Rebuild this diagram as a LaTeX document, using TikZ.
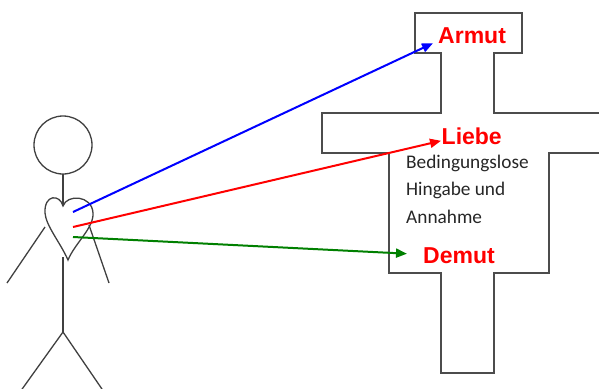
\documentclass[tikz,border=0pt]{standalone}
\usepackage{fontspec}
\setmainfont{Carlito}
\newfontfamily\tugendfont{Liberation Sans}
\usetikzlibrary{arrows.meta,calc}
\definecolor{gruen}{RGB}{0,128,0}

\begin{document}
\begin{tikzpicture}[
			x = 1pt, y = -1pt,
			figur/.style = {draw=black!75, line width=1.3pt},
			kreuz/.style = {draw=black!70, line width=1.4pt},
			pfeil/.style = {line width=2pt, -{Triangle[length=11pt,width=9pt]}},
			tugend/.style = {font=\tugendfont\bfseries\fontsize{23}{23}\selectfont, text=red, inner sep=0pt, anchor=base west},
			zeile/.style = {font=\fontsize{19.3}{27}\selectfont, text=black!85, inner sep=0pt, anchor=base west}
			]

			\useasboundingbox (0,0) rectangle (599,388);
			\clip (0,0) rectangle (599,388);

			% Kreuz
			\draw[kreuz] (610,113) -- (494,113) -- (494,53) -- (522,53) -- (522,13) -- (415,13)
				-- (415,53) -- (441,53) -- (441,113) -- (322,113) -- (322,153) -- (389,153)
				-- (389,273) -- (441,273) -- (441,373) -- (494,373) -- (494,273) -- (549,273)
				-- (549,153) -- (610,153);

			\node[tugend] (armut) at (438,43) {Armut};
			\node[tugend] (liebe) at (441.5,144) {Liebe};
			\node[tugend] (demut) at (423,263) {Demut};

			\foreach \t/\yy/\n in {Bedingungslose/168/z1, Hingabe und/195.5/z2, Annahme/223/z3}
				\node[zeile] (\n) at (406,\yy) {\t};

			% Strichmann
			\draw[figur] (63,145) circle (29);
			\draw[figur] (63,174) -- (63,206);
			\draw[figur] (63,206) .. controls (60,194) and (44,194) .. (45,213)
				.. controls (46,226) and (60,242) .. (68,260)
				.. controls (75,243) and (94,228) .. (93,213)
				.. controls (92,195) and (67,194) .. cycle;
			\draw[figur] (45,227) -- (7,283);
			\draw[figur] (89,225) -- (109,283);
			\draw[figur] (63,257) -- (63,332) coordinate (huefte);
			\draw[figur] (huefte) -- (20,392);
			\draw[figur] (huefte) -- (104,392);

			\coordinate (hb) at (73,212);
			\coordinate (hr) at (73,227);
			\coordinate (hg) at (73,237);

			\draw[pfeil,blue] (hb) -- ($(armut.west)+(-5,8)$);
			\draw[pfeil,red] (hr) -- ($(liebe.west)+(-0.5,5)$);
			\draw[pfeil,gruen] (hg) -- ($(demut.west)+(-16,-1.5)$);

		\end{tikzpicture}
\end{document}
